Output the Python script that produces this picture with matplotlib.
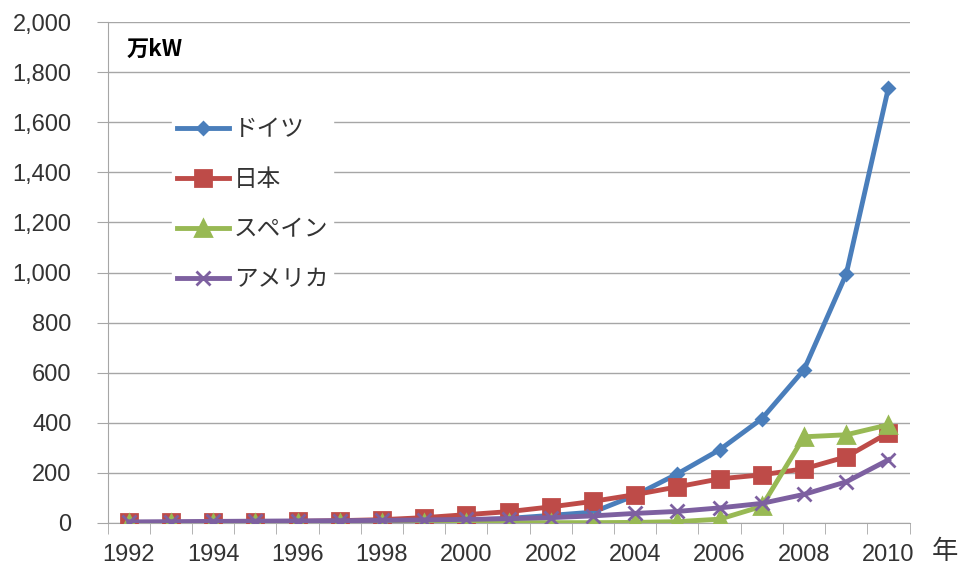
import numpy as np
import matplotlib
matplotlib.use('Agg')
import matplotlib.pyplot as plt

plt.rcParams['font.family'] = ['Noto Sans CJK JP', 'DejaVu Sans']

# years and installed PV capacity (万kW)
years = list(range(1992, 2011))
germany = [1, 1, 1, 2, 3, 4, 5, 7, 10, 18, 30, 43, 110, 196, 292, 416, 612, 994, 1738]
japan = [2, 2, 3, 4, 6, 9, 13, 21, 33, 45, 64, 86, 113, 144, 176, 192, 216, 264, 360]
spain = [0, 0, 0, 0, 0, 0, 0, 1, 1, 1, 1, 1, 2, 5, 15, 66, 344, 352, 392]
usa = [4, 5, 6, 7, 8, 9, 10, 12, 14, 17, 21, 28, 38, 46, 60, 78, 114, 164, 252]

names = ['ドイツ', '日本', 'スペイン', 'アメリカ']
colors = ['#4A7EBB', '#BE4B48', '#98B954', '#7D60A0']
markers = ['D', 's', '^', 'x']
sizes = [6, 11, 11, 10]

fig = plt.figure(figsize=(9.78, 5.69), dpi=100)
ax = fig.add_axes([0.110, 0.081, 0.820, 0.880])

x = np.arange(len(years))
for vals, name, c, m, s in zip([germany, japan, spain, usa], names, colors, markers, sizes):
    ax.plot(x, vals, color=c, lw=3.5, marker=m, ms=s, mew=2, label=name, zorder=3)

ax.set_xlim(-0.5, len(years) - 0.5)
ax.set_ylim(0, 2000)
ax.set_yticks(np.arange(0, 2001, 200))
ax.set_yticklabels(['{:,}'.format(v) for v in range(0, 2001, 200)], fontsize=17, color='#333333',
                   family='Liberation Sans')
ax.yaxis.grid(True, color='#A6A6A6', lw=1)
ax.set_axisbelow(True)

ax.set_xticks(x[::2])
ax.set_xticklabels([str(y) for y in years[::2]], fontsize=17, color='#333333', family='Liberation Sans')
ax.tick_params(axis='x', length=0, pad=15)
ax.set_xticks(np.arange(-0.5, len(years)), minor=True)
ax.tick_params(axis='x', which='minor', length=8, color='#A6A6A6', direction='out')
ax.tick_params(axis='y', length=8, color='#A6A6A6', pad=18)

for sp in ['top', 'right']:
    ax.spines[sp].set_visible(False)
for sp in ['left', 'bottom']:
    ax.spines[sp].set_color('#A6A6A6')

ax.text(0.024, 0.945, '万kW', transform=ax.transAxes, fontsize=16, fontweight='bold', va='center')
fig.text(0.966, 0.030, '年', fontsize=19, ha='center', va='center', color='#333333')

leg = ax.legend(loc='upper left', bbox_to_anchor=(0.066, 0.842), fontsize=17, handlelength=2.2,
                labelspacing=1.15, handletextpad=0.2, frameon=True, fancybox=False,
                borderpad=0.2, framealpha=1)
leg.get_frame().set_edgecolor('white')
for t in leg.get_texts():
    t.set_color('#333333')

fig.savefig('out.png', dpi=100)
